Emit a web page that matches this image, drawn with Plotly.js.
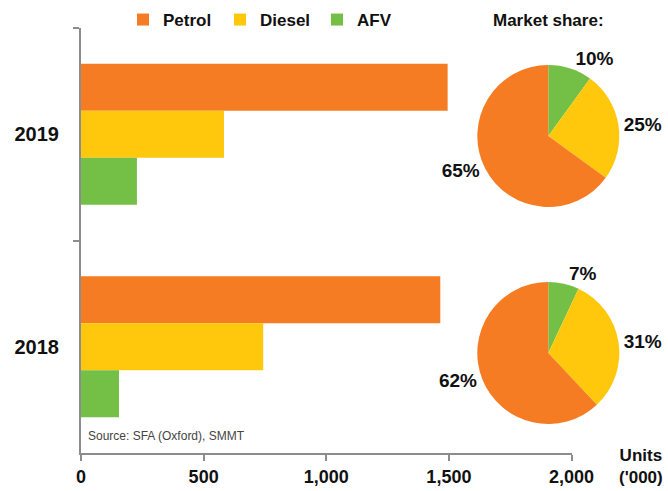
<!DOCTYPE html>
<html>
<head>
<meta charset="utf-8">
<script src="https://cdn.plot.ly/plotly-3.0.1.min.js"></script>
<style>
  html, body { margin: 0; padding: 0; background: #fff; }
  #chart { width: 668px; height: 491px; }
</style>
</head>
<body>
<div id="chart"></div>
<script>
// car registrations, units ('000)
var years = ["2019", "2018"];
var petrol = [1495, 1465];
var diesel = [583, 743];
var afv = [228, 155];

// market share labels, order: AFV, Diesel, Petrol
var shareLabels = ["AFV", "Diesel", "Petrol"];
var share2019 = [10, 25, 65];
var share2018 = [7, 31, 62];

var colPetrol = "#F57C22";
var colDiesel = "#FFC80C";
var colAfv = "#74BF45";

var sans = "'Liberation Sans', Arial, sans-serif";

// plot area in px
var mL = 81, mR = 10, mT = 28, mB = 38;
var W = 668, H = 491;
var pw = W - mL - mR, ph = H - mT - mB;
var axisRight = 571.5;

// pie placement helper (px centre -> paper domain)
function pieDomain(cx, cy, r) {
  var x = (cx - mL) / pw, y = 1 - (cy - mT) / ph;
  return { x: [x - r / pw, x + r / pw], y: [y - r / ph, y + r / ph] };
}

function bar(name, vals, color) {
  return {
    type: "bar",
    orientation: "h",
    name: name,
    y: years,
    x: vals,
    marker: { color: color, line: { width: 0 } },
    hoverinfo: "x+name"
  };
}

function pie(vals, dom) {
  return {
    type: "pie",
    labels: shareLabels,
    values: vals,
    domain: dom,
    sort: false,
    direction: "clockwise",
    rotation: 0,
    marker: { colors: [colAfv, colDiesel, colPetrol], line: { width: 0 } },
    textposition: "outside",
    texttemplate: "%{percent:.0%}",
    outsidetextfont: { family: sans, size: 19, color: "#111", weight: "bold" },
    showlegend: false
  };
}

var traces = [
  bar("Petrol", petrol, colPetrol),
  bar("Diesel", diesel, colDiesel),
  bar("AFV", afv, colAfv),
  pie(share2019, pieDomain(548.3, 136, 71)),
  pie(share2018, pieDomain(548.3, 353, 71))
];

var axisGrey = "#8c8c8c";

var layout = {
  width: W,
  height: H,
  margin: { l: mL, r: mR, t: mT, b: mB, autoexpand: false },
  paper_bgcolor: "#fff",
  plot_bgcolor: "#fff",
  font: { family: sans, color: "#111" },
  barmode: "group",
  bargap: 0.336,
  bargroupgap: 0,
  xaxis: {
    domain: [0, (axisRight - mL) / pw],
    range: [0, 2000],
    tickvals: [0, 500, 1000, 1500, 2000],
    tickformat: ",d",
    showgrid: false,
    zeroline: false,
    showline: true,
    linecolor: axisGrey,
    linewidth: 2,
    ticks: "outside",
    ticklen: 6,
    tickwidth: 2,
    tickcolor: axisGrey,
    tickfont: { family: sans, size: 18, weight: "bold", color: "#111" },
    fixedrange: true
  },
  yaxis: {
    type: "category",
    categoryorder: "array",
    categoryarray: years,
    autorange: "reversed",
    showgrid: false,
    zeroline: false,
    showline: true,
    linecolor: axisGrey,
    linewidth: 2,
    ticks: "outside",
    tickson: "boundaries",
    ticklen: 6,
    tickwidth: 2,
    tickcolor: axisGrey,
    ticklabelstandoff: 16,
    tickfont: { family: sans, size: 20, weight: "bold", color: "#111" },
    fixedrange: true
  },
  showlegend: true,
  legend: {
    orientation: "h",
    x: (123 - mL) / pw,
    xanchor: "left",
    y: 1 + 8 / ph,
    yanchor: "middle",
    entrywidth: 52,
    entrywidthmode: "pixels",
    font: { family: sans, size: 17, weight: "bold", color: "#111" },
    bgcolor: "rgba(0,0,0,0)"
  },
  annotations: [
    {
      xref: "paper", yref: "paper",
      x: (548.3 - mL) / pw, y: 1 + 8 / ph,
      xanchor: "center", yanchor: "middle",
      text: "Market share:",
      showarrow: false,
      font: { family: sans, size: 17, weight: "bold", color: "#111" }
    },
    {
      xref: "paper", yref: "paper",
      x: (641 - mL) / pw, y: -13 / ph,
      xanchor: "center", yanchor: "middle",
      text: "Units<br>('000)",
      showarrow: false,
      font: { family: sans, size: 17, weight: "bold", color: "#111" }
    },
    {
      xref: "paper", yref: "paper",
      x: (86 - mL) / pw, y: (453 - 436) / ph,
      xanchor: "left", yanchor: "middle",
      text: "Source: SFA (Oxford), SMMT",
      showarrow: false,
      font: { family: sans, size: 12, color: "#444" }
    }
  ]
};

Plotly.newPlot("chart", traces, layout, { displayModeBar: false, staticPlot: true });
</script>
</body>
</html>
